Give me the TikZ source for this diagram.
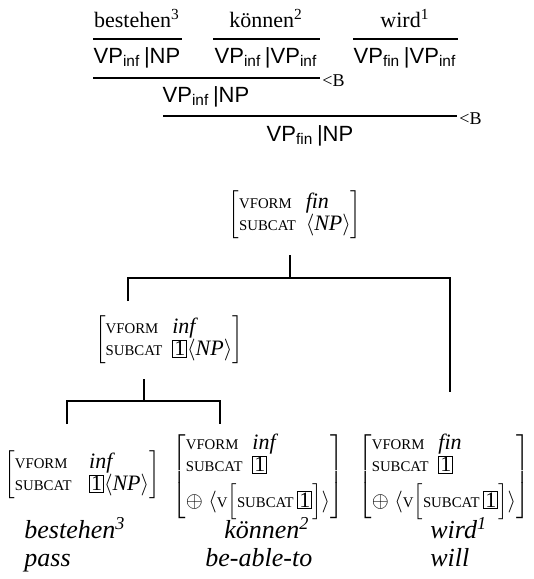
\documentclass[tikz,border=0pt]{standalone}
\usepackage{fontspec}
\setmainfont{Liberation Serif}
\setsansfont{Liberation Sans}

% feature names in small capitals style
\newcommand\feat[1]{{\fontsize{7.4}{8}\selectfont #1}}
% boxed structure-sharing tag
\newcommand\tagi{{\setlength\fboxsep{0.5pt}\setlength\fboxrule{0.45pt}\fbox{1}}}
% CCG category with a subscripted feature
\newcommand\vp[1]{VP\textsubscript{#1}}
% attribute-value matrix; optional argument is the column gap
\newcommand\avm[2][0.5em]{$\left[\renewcommand\arraystretch{0.78}\begin{tabular}{@{}l@{\hspace{#1}}l@{}}#2\end{tabular}\right]$}
% appended list of an auxiliary verb
\newcommand\appendv[1]{\multicolumn{2}{@{}l@{}}{$\oplus$\ $\langle$\feat{V}$\Big[$\feat{SUBCAT}\,\tagi$\Big]\rangle$\hspace{#1}}}

\tikzset{
  lex/.style={font=\fontsize{11}{13}\selectfont, anchor=base, inner sep=0pt},
  cat/.style={font=\sffamily\fontsize{11}{13}\selectfont, anchor=base, inner sep=0pt},
  comb/.style={font=\fontsize{9}{11}\selectfont, anchor=west, inner sep=1pt},
  rule/.style={line width=0.75pt},
  tree/.style={line width=0.75pt},
  fs/.style={font=\fontsize{11}{12.5}\selectfont, inner sep=0pt},
  word/.style={font=\itshape\fontsize{13}{15}\selectfont, anchor=base west, inner sep=0pt},
}

\begin{document}
\begin{tikzpicture}[x=0.5pt,y=-0.5pt]
\useasboundingbox (0,0) rectangle (534,579);

% ---- CCG derivation ----
\node[lex] (b3) at (137,27) {bestehen\textsuperscript{3}};
\node[lex] (k2) at (266,27) {können\textsuperscript{2}};
\node[lex] (w1) at (405,27) {wird\textsuperscript{1}};

\coordinate (r1a) at (93,39);  \coordinate (r1b) at (182,39);
\coordinate (r2a) at (213,39); \coordinate (r2b) at (320,39);
\coordinate (r3a) at (353,39); \coordinate (r3b) at (458,39);
\draw[rule] (r1a) -- (r1b);
\draw[rule] (r2a) -- (r2b);
\draw[rule] (r3a) -- (r3b);

\node[cat] (c3) at (137,63) {\vp{inf}\,|NP};
\node[cat] (c2) at (266,63) {\vp{inf}\,|\vp{inf}};
\node[cat] (c1) at (405,63) {\vp{fin}\,|\vp{inf}};

\coordinate (r4a) at (93,78); \coordinate (r4b) at (320,78);
\draw[rule] (r4a) -- (r4b);
\node[comb] (B1) at ([yshift=-1.5]r4b) {<B};

\node[cat] (c23) at (206,102) {\vp{inf}\,|NP};

\coordinate (r5a) at (163,116); \coordinate (r5b) at (457,116);
\draw[rule] (r5a) -- (r5b);
\node[comb] (B2) at ([yshift=-1.5]r5b) {<B};

\node[cat] (c123) at (310,141) {\vp{fin}\,|NP};

% ---- HPSG tree ----
\node[fs] (root) at (295,215) {\avm[0.45em]{\feat{VFORM} & \textit{fin}\\ \feat{SUBCAT} & $\langle$\textit{NP}$\rangle$}};

\node[fs] (mid) at (169,340) {\avm[0.45em]{\feat{VFORM} & \textit{inf}\\ \feat{SUBCAT} & \tagi$\langle$\textit{NP}$\rangle$}};

\node[fs] (lf) at (82,475) {\avm[0.8em]{\feat{VFORM} & \textit{inf}\\ \feat{SUBCAT} & \tagi$\langle$\textit{NP}$\rangle$}};

\node[fs] (md) at (258,477) {\avm[0.45em]{\feat{VFORM} & \textit{inf}\\ \feat{SUBCAT} & \tagi\\[3pt]
  \appendv{0.6em}}};

\node[fs] (rt) at (444,477) {\avm[0.45em]{\feat{VFORM} & \textit{fin}\\ \feat{SUBCAT} & \tagi\\[3pt]
  \appendv{1.3em}}};

% branches
\coordinate (t0) at (290,255); \coordinate (t1) at (290,278);
\coordinate (tl) at (128,278); \coordinate (tr) at (450,278);
\coordinate (tlb) at (128,301); \coordinate (trb) at (450,392);
\draw[tree] (t0) -- (t1);
\draw[tree] (tlb) -- (tl) -- (tr) -- (trb);

\coordinate (s0) at (144,379); \coordinate (s1) at (144,401);
\coordinate (sl) at (67,401); \coordinate (sr) at (220,401);
\coordinate (slb) at (67,424); \coordinate (srb) at (220,424);
\draw[tree] (s0) -- (s1);
\draw[tree] (slb) -- (sl) -- (sr) -- (srb);

% words and glosses
\node[word] (g3) at (24,538) {bestehen\textsuperscript{3}};
\node[word] (g2) at (224,538) {können\textsuperscript{2}};
\node[word] (g1) at (430,538) {wird\textsuperscript{1}};
\node[word] (e3) at (24,566) {pass};
\node[word] (e2) at (205,566) {be-able-to};
\node[word] (e1) at (430,566) {will};
\end{tikzpicture}
\end{document}
